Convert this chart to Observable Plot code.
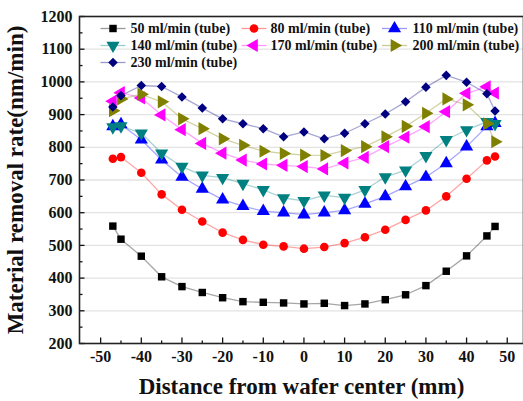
<!DOCTYPE html>
<html><head><meta charset="utf-8">
<script src="https://cdn.jsdelivr.net/npm/d3@7"></script>
<script src="https://cdn.jsdelivr.net/npm/@observablehq/plot@0.6"></script>
<style>body{margin:0;background:#fff} #chart{width:523px;height:401px;overflow:hidden}</style>
</head><body><div id="chart"></div>
<script>
const positions = [-47,-45,-40,-35,-30,-25,-20,-15,-10,-5,0,5,10,15,20,25,30,35,40,45,47];
const rate50  = [559,519,467,404,374,356,340,328,326,324,321,323,316,321,334,349,377,421,468,529,558];
const rate80  = [765,770,722,656,609,573,539,517,502,497,490,495,507,525,548,578,607,650,704,760,772];
const rate110 = [864,870,823,762,709,673,640,620,605,600,594,600,607,627,650,680,709,751,802,864,874];
const rate140 = [862,865,843,782,741,714,707,689,670,645,636,653,646,670,709,730,774,823,853,878,872];
const rate170 = [941,967,951,899,854,812,782,761,749,745,741,734,752,769,802,831,863,909,965,985,966];
const rate200 = [912,948,962,939,887,857,826,806,788,781,776,775,790,802,832,864,904,948,930,872,817];
const rate230 = [923,958,989,986,954,920,887,872,857,832,847,826,843,872,902,939,984,1020,999,964,911];
const seriesNames = ["50 ml/min (tube)","80 ml/min (tube)","110 ml/min (tube)","140 ml/min (tube)","170 ml/min (tube)","200 ml/min (tube)","230 ml/min (tube)"];
const yTicks = [200,300,400,500,600,700,800,900,1000,1100,1200];
const xTicks = [-50,-40,-30,-20,-10,0,10,20,30,40,50];

const colors  = ["#000000","#ff0000","#0000ff","#008080","#ff00ff","#808000","#000080"];
const symbols = ["square","circle","triangle","triangle","triangle","triangle","diamond2"];
const rotates = [0,0,0,180,-90,90,0];
const radii   = [4.2,4.3,4.9,4.9,4.9,4.9,4.3];
const allValues = [rate50,rate80,rate110,rate140,rate170,rate200,rate230];

const font = "'Liberation Serif','Times New Roman',serif";

// custom symbols for inward ticks and legend lines
const hTick = L => ({draw(ctx){ctx.moveTo(0,0);ctx.lineTo(L,0);}});
const vTick = L => ({draw(ctx){ctx.moveTo(0,0);ctx.lineTo(0,-L);}});
const hLine = L => ({draw(ctx){ctx.moveTo(-L/2,0);ctx.lineTo(L/2,0);}});

const yMinor = yTicks.slice(0,-1).map(v => v + 50);
const xMinor = [-45,-35,-25,-15,-5,5,15,25,35,45];

const marks = [];
marks.push(Plot.ruleY(yTicks.slice(1,-1), {stroke:"#e3e3e3", strokeWidth:1.3}));

allValues.forEach((vals,k) => {
  const d = positions.map((x,i) => ({x, y: vals[i]}));
  marks.push(Plot.line(d, {x:"x", y:"y", stroke: colors[k], strokeOpacity:0.35, strokeWidth:1.3}));
});
allValues.forEach((vals,k) => {
  const d = positions.map((x,i) => ({x, y: vals[i]}));
  marks.push(Plot.dot(d, {x:"x", y:"y", symbol: symbols[k], rotate: rotates[k], r: radii[k], fill: colors[k], stroke:"none"}));
});

// legend
const colX = [112.5, 253.5, 394];
const textX = [130, 270, 412];
const rowY = [28, 45, 62];
const ML = 79, MT = 16;
seriesNames.forEach((name,k) => {
  const c = k % 3, r = Math.floor(k / 3);
  marks.push(Plot.dot([0], {frameAnchor:"top-left", dx: colX[c]-ML, dy: rowY[r]-MT, symbol: hLine(25), stroke: colors[k], strokeOpacity:0.4, strokeWidth:1.3, fill:"none"}));
  marks.push(Plot.dot([0], {frameAnchor:"top-left", dx: colX[c]-ML, dy: rowY[r]-MT, symbol: symbols[k], rotate: rotates[k], r: radii[k], fill: colors[k], stroke:"none"}));
  marks.push(Plot.text([name], {frameAnchor:"top-left", dx: textX[c]-ML, dy: rowY[r]-MT, text: d=>d, textAnchor:"start", lineAnchor:"middle", fontSize:14, fontWeight:"bold", fill:"#111"}));
});

// inward ticks
marks.push(Plot.dot(yTicks, {y: d=>d, frameAnchor:"left", symbol: hTick(5), stroke:"#111", strokeWidth:1.3, fill:"none"}));
marks.push(Plot.dot(yMinor, {y: d=>d, frameAnchor:"left", symbol: hTick(3), stroke:"#111", strokeWidth:1.3, fill:"none"}));
marks.push(Plot.dot(xTicks, {x: d=>d, frameAnchor:"bottom", symbol: vTick(6), stroke:"#111", strokeWidth:1.3, fill:"none"}));
marks.push(Plot.dot(xMinor, {x: d=>d, frameAnchor:"bottom", symbol: vTick(3), stroke:"#111", strokeWidth:1.3, fill:"none"}));

marks.push(Plot.frame({stroke:"#222", strokeWidth:1.6}));
marks.push(Plot.axisY({ticks: yTicks, tickSize:0, tickPadding:7, label:null, tickFormat: d => String(d), fontSize:16, fontWeight:"bold"}));
marks.push(Plot.axisX({ticks: xTicks, tickSize:0, tickPadding:7, label:null, tickFormat: d => String(d), fontSize:16, fontWeight:"bold"}));
marks.push(Plot.text(["Distance from wafer center (mm)"], {frameAnchor:"bottom", dy:43, text:d=>d, textAnchor:"middle", lineAnchor:"middle", fontSize:23, fontWeight:"bold", fill:"#111"}));
marks.push(Plot.text(["Material removal rate(nm/min)"], {frameAnchor:"left", dx:-64, text:d=>d, rotate:-90, textAnchor:"middle", lineAnchor:"middle", fontSize:23, fontWeight:"bold", fill:"#111"}));

const chart = Plot.plot({
  width: 523, height: 401,
  marginLeft: ML, marginTop: MT, marginBottom: 58, marginRight: 0,
  x: {domain: [-55.2, 54]},
  y: {domain: [200, 1200]},
  style: {fontFamily: font, fontSize: "16px", fontWeight: "bold", background: "white", color:"#111"},
  marks
});
document.getElementById("chart").appendChild(chart);
</script>
</body></html>
